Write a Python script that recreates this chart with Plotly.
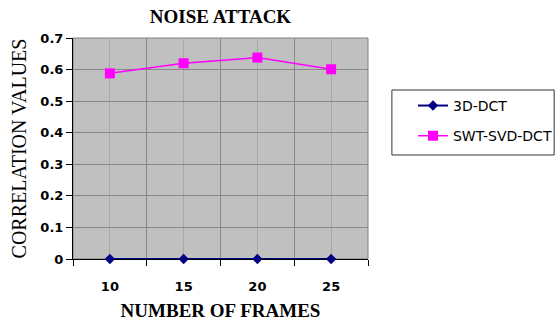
import plotly.graph_objects as go

frames = ["10", "15", "20", "25"]
dct3d = [0.0, 0.0, 0.0, 0.0]
swt_svd_dct = [0.588, 0.620, 0.638, 0.601]
y_ticks = [0, 0.1, 0.2, 0.3, 0.4, 0.5, 0.6, 0.7]
y_ticktext = ["0", "0.1", "0.2", "0.3", "0.4", "0.5", "0.6", "0.7"]

xpos = list(range(len(frames)))

fig = go.Figure()
fig.add_trace(go.Scatter(
    x=xpos, y=dct3d, mode="lines+markers", name="3D-DCT",
    line=dict(color="#000080", width=2),
    marker=dict(symbol="diamond", size=8, color="#000080"),
    legendgroup="a", cliponaxis=False,
))
fig.add_trace(go.Scatter(
    x=xpos, y=swt_svd_dct, mode="lines+markers", name="SWT-SVD-DCT",
    line=dict(color="#FF00FF", width=1.5),
    marker=dict(symbol="square", size=10, color="#FF00FF"),
    legendgroup="b", cliponaxis=False,
))

fig.update_layout(
    width=555, height=323,
    margin=dict(l=73, r=187, t=38, b=64, autoexpand=False),
    paper_bgcolor="white",
    plot_bgcolor="#C0C0C0",
    showlegend=True,
    title=dict(text="<b>NOISE ATTACK</b>", x=0.5, xref="paper", xanchor="center",
               y=1 - 16 / 323, yref="container", yanchor="middle",
               font=dict(family="Liberation Serif", size=19, color="black")),
    legend=dict(x=1.1525, y=0.765, xanchor="left", yanchor="top",
                borderwidth=0, bgcolor="rgba(0,0,0,0)",
                font=dict(family="DejaVu Sans", size=14, color="black"),
                tracegroupgap=9, traceorder="grouped"),
    font=dict(family="DejaVu Sans", color="black"),
)

fig.update_xaxes(
    range=[-0.5, 3.5],
    tickmode="array", tickvals=xpos, ticktext=frames,
    ticks="", ticklabelstandoff=15,
    tickfont=dict(family="DejaVu Sans", size=13, color="black", weight="bold"),
    showgrid=True, gridcolor="#A8A8A8", gridwidth=1,
    minor=dict(tickmode="linear", tick0=-0.5, dtick=1, ticks="outside", ticklen=6,
               tickcolor="black", showgrid=True, gridcolor="#888888", gridwidth=1),
    showline=True, linecolor="black", linewidth=1,
    zeroline=False, layer="below traces",
    title=dict(text="<b>NUMBER OF FRAMES</b>", standoff=11,
               font=dict(family="Liberation Serif", size=19, color="black")),
)
fig.update_yaxes(
    range=[0, 0.7],
    tickmode="array", tickvals=y_ticks, ticktext=y_ticktext,
    ticks="outside", ticklen=6, tickcolor="black",
    tickfont=dict(family="DejaVu Sans", size=13, color="black", weight="bold"),
    showgrid=True, gridcolor="#888888", gridwidth=1,
    showline=True, linecolor="black", linewidth=1,
    zeroline=False,
    title=dict(text="CORRELATION VALUES", standoff=8,
               font=dict(family="Liberation Serif", size=20, color="black")),
)

# plot-area border
fig.add_shape(type="rect", xref="paper", yref="paper", x0=0, x1=1, y0=0, y1=1,
              line=dict(color="#808080", width=1), layer="below")
# legend box
fig.add_shape(type="rect", xref="paper", yref="paper",
              x0=1.081, x1=1.631, y0=0.4706, y1=0.7647,
              line=dict(color="#333333", width=1), fillcolor="white", layer="below")

fig.write_html("out.html", post_script="document.body.style.margin='0';",
               config={"displayModeBar": False})
